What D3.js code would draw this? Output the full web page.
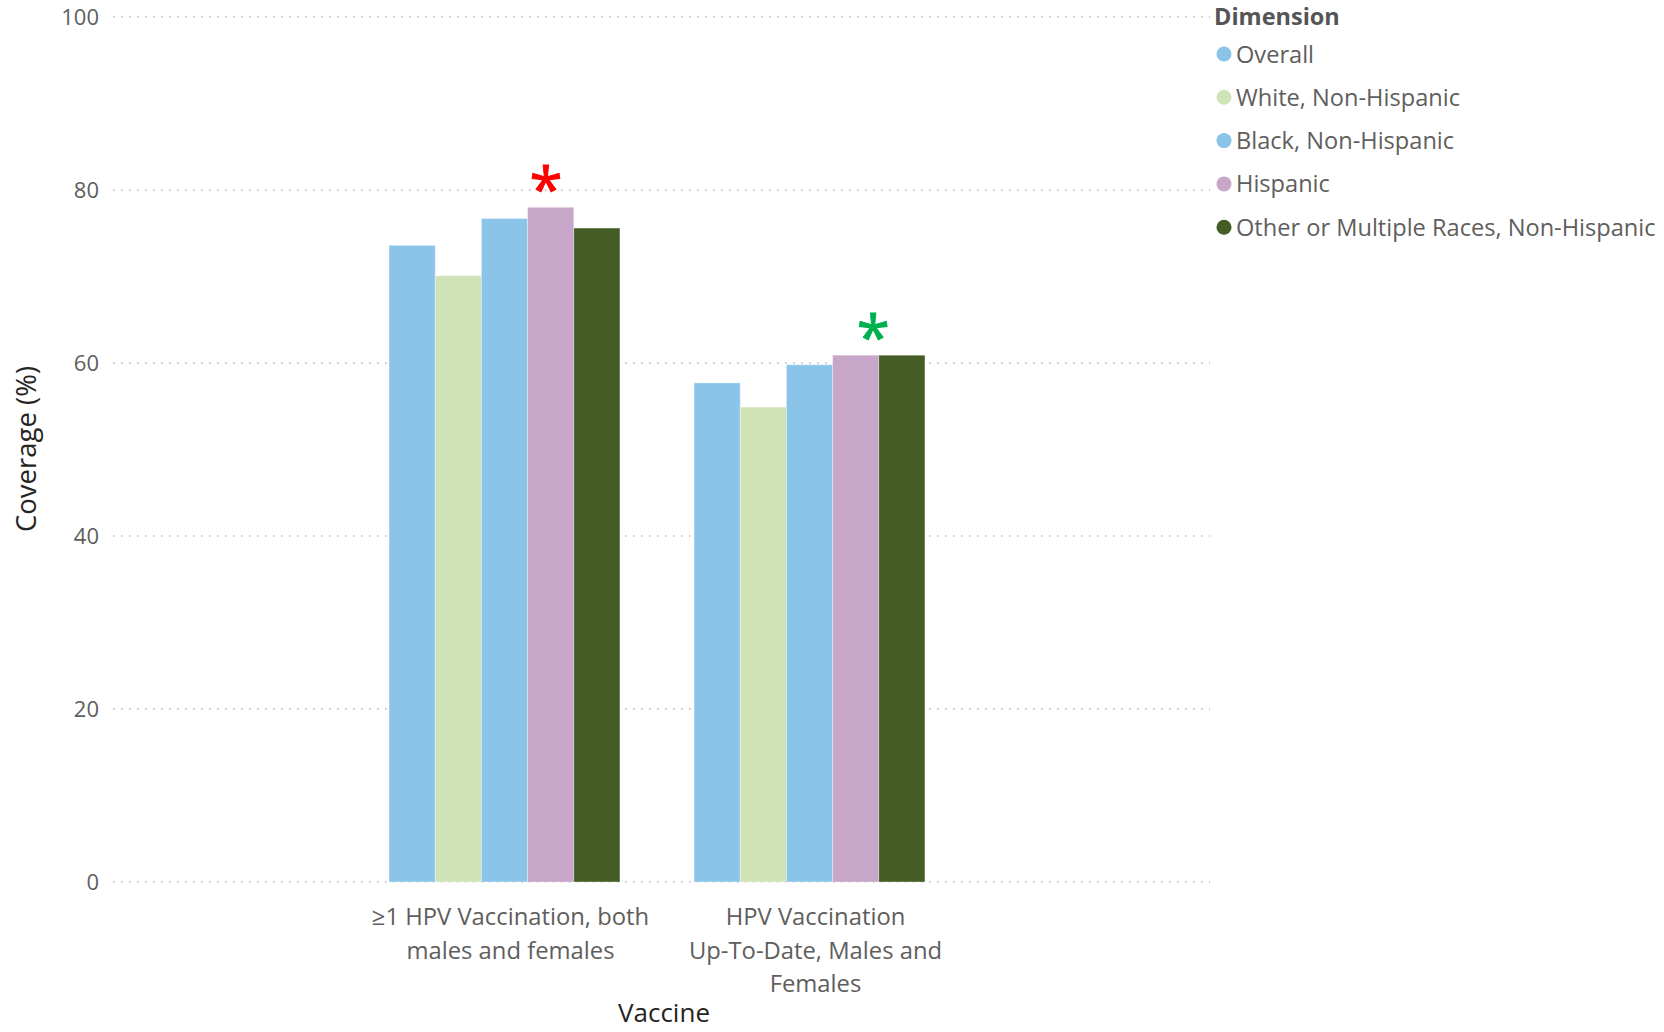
<!DOCTYPE html>
<html lang="en">
<head>
<meta charset="UTF-8">
<title>HPV coverage by race</title>
<script src="https://cdnjs.cloudflare.com/ajax/libs/d3/7.8.5/d3.min.js"></script>
<style>
  html, body { margin: 0; padding: 0; background: #fff; }
  svg { font-family: "Open Sans", "Noto Sans", sans-serif; }
</style>
</head>
<body>
<div id="chart"></div>
<script>
// data
var categories = ["≥1 HPV Vaccination, both\nmales and females", "HPV Vaccination\nUp-To-Date, Males and\nFemales"];
var seriesNames = ["Overall", "White, Non-Hispanic", "Black, Non-Hispanic", "Hispanic", "Other or Multiple Races, Non-Hispanic"];
var seriesColors = ["#8AC4E9", "#D0E3B7", "#8AC4E9", "#C8A6C9", "#435D25"];
var overall = [73.6, 57.7];
var white = [70.1, 54.9];
var black = [76.7, 59.8];
var hispanic = [78.0, 60.9];
var other = [75.6, 60.9];
var yTicks = [0, 20, 40, 60, 80, 100];
// asterisks above the Hispanic bars
var marks = [
  {cat: 0, series: "Hispanic", dx: 0.4, color: "#FF0000"},
  {cat: 1, series: "Hispanic", dx: 0.88, color: "#00B050"}
];

var values = [overall, white, black, hispanic, other];
var W = 1664, H = 1032;

var svg = d3.select("#chart").append("svg")
  .attr("width", W).attr("height", H);

var y = d3.scaleLinear().domain([0, 100]).range([882, 17]);

var x = d3.scaleBand().domain(d3.range(categories.length))
  .range([352, 962]).paddingInner(0.243).paddingOuter(0.1215);

var xs = d3.scaleBand().domain(seriesNames).range([0, x.bandwidth()]);

// grid
svg.append("g").selectAll("line").data(yTicks).enter().append("line")
  .attr("x1", 113).attr("x2", 1210)
  .attr("y1", d => y(d)).attr("y2", d => y(d))
  .attr("stroke", "#b8b8b8").attr("stroke-width", 1.5)
  .attr("stroke-dasharray", "1.5 6.5");

var yAxis = svg.append("g").attr("transform", "translate(99,0)")
  .call(d3.axisLeft(y).tickValues(yTicks).tickSize(0).tickPadding(0));
yAxis.select(".domain").remove();
yAxis.selectAll("text")
  .style("font-family", "Open Sans").style("font-size", "22px").attr("fill", "#605E5C");

// bars
var groups = svg.append("g").selectAll("g").data(categories).enter().append("g")
  .attr("transform", (d, i) => "translate(" + x(i) + ",0)");

groups.selectAll("rect")
  .data((d, i) => seriesNames.map((s, j) => ({s: s, j: j, v: values[j][i]})))
  .enter().append("rect")
  .attr("x", d => xs(d.s))
  .attr("width", xs.bandwidth())
  .attr("y", d => y(d.v))
  .attr("height", d => y(0) - y(d.v))
  .attr("fill", d => seriesColors[d.j])
  .attr("stroke", "#fff").attr("stroke-opacity", 0.35).attr("stroke-width", 1);

// asterisks
svg.append("g").selectAll("text").data(marks).enter().append("text")
  .attr("x", d => x(d.cat) + xs(d.series) + xs.bandwidth() * d.dx)
  .attr("y", d => y(values[seriesNames.indexOf(d.series)][d.cat]) + 4)
  .attr("text-anchor", "middle")
  .style("font-size", "60px")
  .attr("fill", d => d.color)
  .attr("stroke", d => d.color).attr("stroke-width", 1)
  .text("*");

// category labels
var catLabels = svg.append("g").selectAll("text").data(categories).enter().append("text")
  .attr("text-anchor", "middle")
  .style("font-size", "23.8px").attr("fill", "#605E5C");
catLabels.each(function(d, i) {
  var t = d3.select(this);
  d.split("\n").forEach(function(line, k) {
    t.append("tspan").attr("x", x(i) + x.bandwidth() / 2 + 6)
      .attr("y", 925 + k * 33.5).text(line);
  });
});

// axis titles
svg.append("text").attr("x", 664).attr("y", 1022)
  .attr("text-anchor", "middle").style("font-size", "26px").attr("fill", "#252423")
  .text("Vaccine");

svg.append("text")
  .attr("transform", "translate(36,449) rotate(-90)")
  .attr("text-anchor", "middle").style("font-size", "27.5px").attr("fill", "#252423")
  .text("Coverage (%)");

// legend
var legend = svg.append("g").attr("transform", "translate(1214,0)");
legend.append("text").attr("x", 0).attr("y", 25)
  .style("font-size", "23.5px").style("font-weight", "bold").attr("fill", "#555")
  .text("Dimension");

var items = legend.selectAll(".item").data(seriesNames).enter().append("g")
  .attr("transform", (d, i) => "translate(0," + (54 + i * 43.3) + ")");
items.append("circle").attr("cx", 10).attr("cy", 0).attr("r", 7.5)
  .attr("fill", (d, i) => seriesColors[i]);
items.append("text").attr("x", 22).attr("y", 8.5)
  .style("font-size", "23.6px").attr("fill", "#605E5C")
  .text(d => d);
</script>
</body>
</html>
